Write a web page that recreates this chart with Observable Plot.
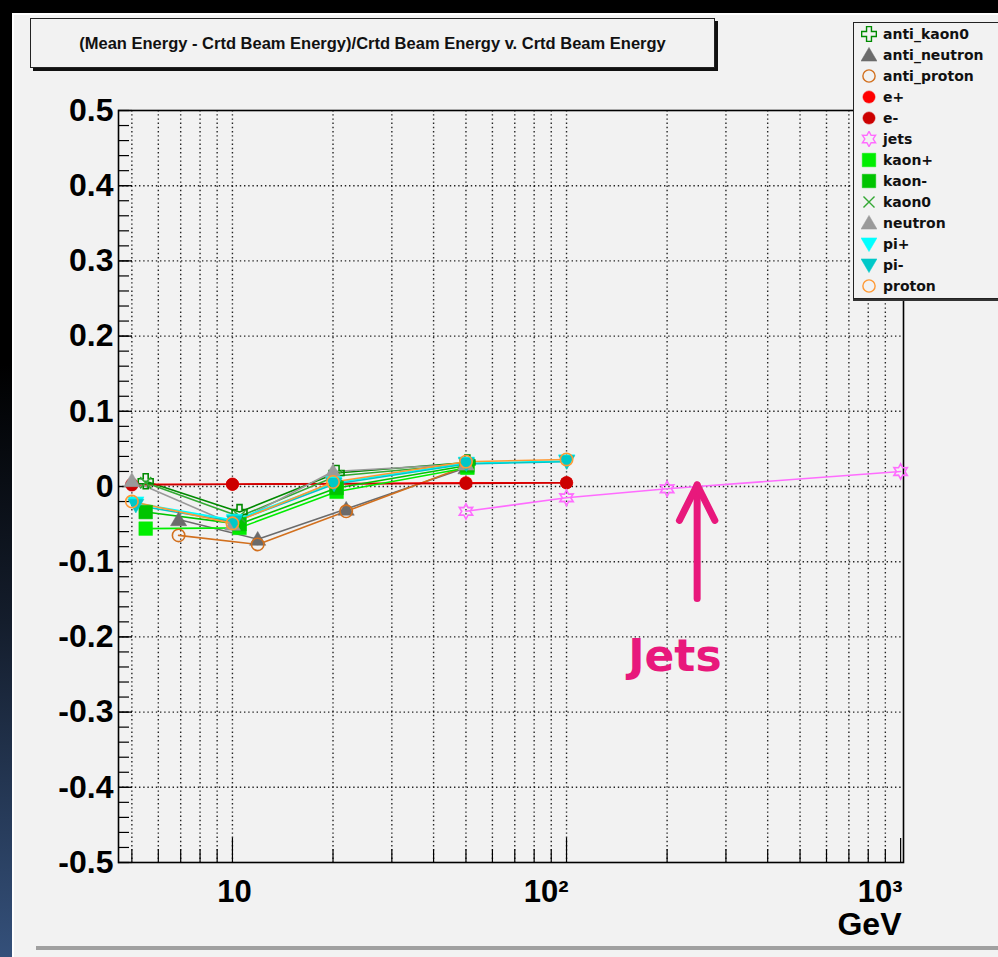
<!DOCTYPE html>
<html>
<head>
<meta charset="utf-8">
<script src="https://cdn.jsdelivr.net/npm/d3@7"></script>
<script src="https://cdn.jsdelivr.net/npm/@observablehq/plot@0.6"></script>
<style>
html,body{margin:0;padding:0;}
body{width:998px;height:957px;position:relative;overflow:hidden;
  background:linear-gradient(to bottom,#000 0%,#000 38%,#141d2c 65%,#34507a 100%);
  font-family:"Liberation Sans",Arial,sans-serif;}
#panel{position:absolute;left:12px;top:13px;right:0;bottom:0;background:#f2f2f2;
  border-left:2px solid #fff;border-top:2px solid #fff;}
#bottomline{position:absolute;left:36px;right:0;top:946px;height:4px;background:#a0a0a0;}
#chart{position:absolute;left:0;top:0;}
#title{position:absolute;left:30px;top:18px;width:683px;height:48px;border:1px solid #222;
  box-shadow:3px 3px 0 #111;background:#f2f2f2;display:flex;align-items:center;justify-content:center;
  font:bold 16.5px "Liberation Sans",Arial,sans-serif;color:#111;white-space:nowrap;}
#legend{position:absolute;left:853px;top:22px;width:160px;height:275px;border:1px solid #222;
  box-shadow:0 2px 0 #333;background:#f2f2f2;}
.lrow{position:absolute;left:861px;height:20px;display:flex;align-items:center;
  font:bold 14px "DejaVu Sans",sans-serif;color:#111;white-space:nowrap;}
.lrow svg{margin-right:6px;}
</style>
</head>
<body>
<div id="panel"></div>
<div id="bottomline"></div>
<div id="chart"></div>
<div id="title">(Mean Energy - Crtd Beam Energy)/Crtd Beam Energy v. Crtd Beam Energy</div>
<div id="legend"></div>
<script>
// ---------------- data ----------------
const seriesNames = ["anti_kaon0","anti_neutron","anti_proton","e+","e-","jets","kaon+","kaon-","kaon0","neutron","pi+","pi-","proton"];

const eBeamE      = [5, 10, 50, 100];
const ePlus       = [0.003, 0.003, 0.005, 0.005];
const eMinus      = [0.002, 0.003, 0.004, 0.005];

const kaonE       = [5.5, 10.5, 20.5, 50.5];
const antiKaon0   = [0.007, -0.034, 0.018, 0.032];
const kaon0       = [0.005, -0.040, 0.014, 0.030];
const kaonPlus    = [-0.056, -0.055, -0.007, 0.025];
const kaonMinus   = [-0.034, -0.050, -0.002, 0.028];

const nucleonE    = [5, 10, 20, 50, 100];
const neutron     = [0.008, -0.050, 0.020, 0.030];
const proton      = [-0.020, -0.049, 0.006, 0.033, 0.036];

const antiNucleonE = [6.9, 11.9, 21.9, 50];
const antiNeutron = [-0.044, -0.070, -0.030, 0.025];
const antiProton  = [-0.065, -0.077, -0.033, 0.027];

const pionE       = [5.14, 10.14, 20.14, 50.14, 100.14];
const piPlus      = [-0.022, -0.045, 0.005, 0.031, 0.034];
const piMinus     = [-0.025, -0.047, 0.003, 0.030, 0.033];

const jetE        = [50, 100, 200, 1000];
const jets        = [-0.033, -0.015, -0.003, 0.020];

const yMajorTicks = [-0.5,-0.4,-0.3,-0.2,-0.1,0,0.1,0.2,0.3,0.4,0.5];
const yMinorTicks = d3.range(-50, 51, 2).map(v => v / 100);
const xDecadeTicks = [10, 100, 1000];
const xMinorTicks = [5,6,7,8,9,20,30,40,50,60,70,80,90,200,300,400,500,600,700,800,900];
const xGridTicks = [5,6,7,8,9,10,20,30,40,50,60,70,80,90,100,200,300,400,500,600,700,800,900];

const annotationArrow = [{x1: 246, y1: -0.149, x2: 246, y2: 0.002}];
const annotationText = [{x: 211, y: -0.226, text: "Jets"}];

// ---------------- symbols ----------------
const triangleDown = {draw(ctx, size){ const s = Math.sqrt(size) * 0.62;
  ctx.moveTo(0, s); ctx.lineTo(s*1.05, -s*0.8); ctx.lineTo(-s*1.05, -s*0.8); ctx.closePath(); }};
const triangleUp = {draw(ctx, size){ const s = Math.sqrt(size) * 0.62;
  ctx.moveTo(0, -s); ctx.lineTo(s*1.05, s*0.8); ctx.lineTo(-s*1.05, s*0.8); ctx.closePath(); }};
const hexStar = {draw(ctx, size){ const R = Math.sqrt(size) * 0.62, r = R * 0.55;
  for (let i = 0; i < 12; i++){ const a = -Math.PI/2 + i*Math.PI/6; const rr = i % 2 ? r : R;
    const px = rr*Math.cos(a), py = rr*Math.sin(a); i ? ctx.lineTo(px, py) : ctx.moveTo(px, py); }
  ctx.closePath(); }};
const openCross = {draw(ctx, size){ const a = Math.sqrt(size) * 0.6, b = a / 3;
  ctx.moveTo(-b,-a); ctx.lineTo(b,-a); ctx.lineTo(b,-b); ctx.lineTo(a,-b); ctx.lineTo(a,b); ctx.lineTo(b,b);
  ctx.lineTo(b,a); ctx.lineTo(-b,a); ctx.lineTo(-b,b); ctx.lineTo(-a,b); ctx.lineTo(-a,-b); ctx.lineTo(-b,-b); ctx.closePath(); }};
const timesSym = {draw(ctx, size){ const a = Math.sqrt(size) * 0.45;
  ctx.moveTo(-a,-a); ctx.lineTo(a,a); ctx.moveTo(a,-a); ctx.lineTo(-a,a); }};
const squareSym = {draw(ctx, size){ const a = Math.sqrt(size) * 0.55; ctx.rect(-a,-a,2*a,2*a); }};
const circleSym = {draw(ctx, size){ const r = Math.sqrt(size) * 0.5; ctx.moveTo(r,0); ctx.arc(0,0,r,0,2*Math.PI); }};
// chevron arrowhead whose tip sits on the anchor point
const chevronUp = {draw(ctx, size){ const a = Math.sqrt(size);
  ctx.moveTo(-a, 2*a); ctx.lineTo(0, 0); ctx.lineTo(a, 2*a); }};

const styleOf = {
  "anti_kaon0":  {xs: kaonE, ys: antiKaon0, color: "#008a00", symbol: openCross, filled: false},
  "anti_neutron":{xs: antiNucleonE, ys: antiNeutron, color: "#6b6b6b", symbol: triangleUp, filled: true},
  "anti_proton": {xs: antiNucleonE, ys: antiProton, color: "#d2701e", symbol: circleSym, filled: false},
  "e+":          {xs: eBeamE, ys: ePlus, color: "#ff0000", symbol: circleSym, filled: true},
  "e-":          {xs: eBeamE, ys: eMinus, color: "#cc0000", symbol: circleSym, filled: true},
  "jets":        {xs: jetE, ys: jets, color: "#ff6cff", symbol: hexStar, filled: false},
  "kaon+":       {xs: kaonE, ys: kaonPlus, color: "#00ee00", symbol: squareSym, filled: true},
  "kaon-":       {xs: kaonE, ys: kaonMinus, color: "#00c400", symbol: squareSym, filled: true},
  "kaon0":       {xs: kaonE, ys: kaon0, color: "#33a833", symbol: timesSym, filled: false},
  "neutron":     {xs: nucleonE, ys: neutron, color: "#9a9a9a", symbol: triangleUp, filled: true},
  "pi+":         {xs: pionE, ys: piPlus, color: "#00ffff", symbol: triangleDown, filled: true},
  "pi-":         {xs: pionE, ys: piMinus, color: "#00c8c8", symbol: triangleDown, filled: true},
  "proton":      {xs: nucleonE, ys: proton, color: "#ff9933", symbol: circleSym, filled: false}
};

const rowsOf = name => styleOf[name].ys.map((y, i) => ({series: name, x: styleOf[name].xs[i], y}));

// ---------------- plot ----------------
const W = 998, H = 957, ML = 118, MR = 95, MT = 110, MB = 95;
const PW = W - ML - MR, PH = H - MT - MB;
const gridStyle = {stroke: "#000", strokeOpacity: 0.85, strokeWidth: 1.4, strokeDasharray: "1.4,2.8"};
const PINK = "#e8187c";

const seriesMarks = [];
for (const name of seriesNames) {
  const st = styleOf[name];
  seriesMarks.push(Plot.line(rowsOf(name), {x: "x", y: "y", stroke: st.color, strokeWidth: 1.6}));
}
for (const name of seriesNames) {
  const st = styleOf[name];
  seriesMarks.push(Plot.dot(rowsOf(name), {x: "x", y: "y", r: 7, symbol: st.symbol,
    fill: st.filled ? st.color : "none", stroke: st.color, strokeWidth: st.filled ? 0.5 : 1.6}));
}

const chart = Plot.plot({
  width: W, height: H,
  marginLeft: ML, marginRight: MR, marginTop: MT, marginBottom: MB,
  style: {background: "transparent", fontFamily: "'Liberation Sans', Arial, sans-serif", overflow: "visible"},
  x: {type: "log", domain: [4.56, 1020]},
  y: {domain: [-0.5, 0.5]},
  marks: [
    Plot.gridY(yMajorTicks.filter(v => v > -0.5 && v < 0.5), gridStyle),
    Plot.gridX(xGridTicks, gridStyle),
    Plot.tickY(yMinorTicks, {y: d => d, insetRight: PW - 11, stroke: "#000", strokeWidth: 1.2}),
    Plot.tickY(yMajorTicks, {y: d => d, insetRight: PW - 14, stroke: "#000", strokeWidth: 1.2}),
    Plot.tickX(xMinorTicks, {x: d => d, insetTop: PH - 13, stroke: "#000", strokeWidth: 1.2}),
    Plot.tickX(xDecadeTicks, {x: d => d, insetTop: PH - 24, stroke: "#000", strokeWidth: 1.2}),
    Plot.frame({stroke: "#000", strokeWidth: 1.6}),
    Plot.axisY(yMajorTicks, {tickSize: 0, tickPadding: 5, fontSize: 32, fontWeight: "bold", fill: "#000",
      tickFormat: d => d === 0 ? "0" : d.toFixed(1), label: null}),
    Plot.axisX([10], {tickSize: 0, tickPadding: 17, fontSize: 31, fontWeight: "bold", fill: "#000",
      tickFormat: () => "10", label: null, dx: 2}),
    Plot.axisX([100, 1000], {tickSize: 0, tickPadding: 17, fontSize: 31, fontWeight: "bold", fill: "#000",
      textAnchor: "end", dx: 2, tickFormat: d => d === 100 ? "10\u00B2" : "10\u00B3", label: null}),
    Plot.text(["GeV"], {frameAnchor: "bottom-right", dy: 50, dx: -2, lineAnchor: "top", textAnchor: "end",
      fontSize: 32, fontWeight: "bold", fill: "#000"}),
    ...seriesMarks,
    Plot.link(annotationArrow, {x1: "x1", y1: "y1", x2: "x2", y2: "y2", stroke: PINK,
      strokeWidth: 7, strokeLinecap: "round"}),
    Plot.dot(annotationArrow, {x: "x2", y: "y2", r: 10, symbol: chevronUp, fill: "none", stroke: PINK,
      strokeWidth: 7, strokeLinecap: "round", strokeLinejoin: "round"}),
    Plot.text(annotationText, {x: "x", y: "y", text: "text", fill: PINK, fontSize: 44, fontWeight: "bold",
      fontFamily: "'DejaVu Sans', sans-serif"})
  ]
});
document.getElementById("chart").appendChild(chart);

// ---------------- legend ----------------
seriesNames.forEach((name, i) => {
  const st = styleOf[name];
  const row = document.createElement("div");
  row.className = "lrow";
  row.style.top = (34 + 21 * i - 10) + "px";
  const svg = d3.create("svg").attr("width", 16).attr("height", 16);
  svg.append("path")
    .attr("transform", "translate(8,8)")
    .attr("d", d3.symbol(st.symbol, 150)())
    .attr("fill", st.filled ? st.color : "none")
    .attr("stroke", st.color)
    .attr("stroke-width", st.filled ? 0.5 : 1.4);
  row.appendChild(svg.node());
  const span = document.createElement("span");
  span.textContent = name;
  row.appendChild(span);
  document.body.appendChild(row);
});
</script>
</body>
</html>
